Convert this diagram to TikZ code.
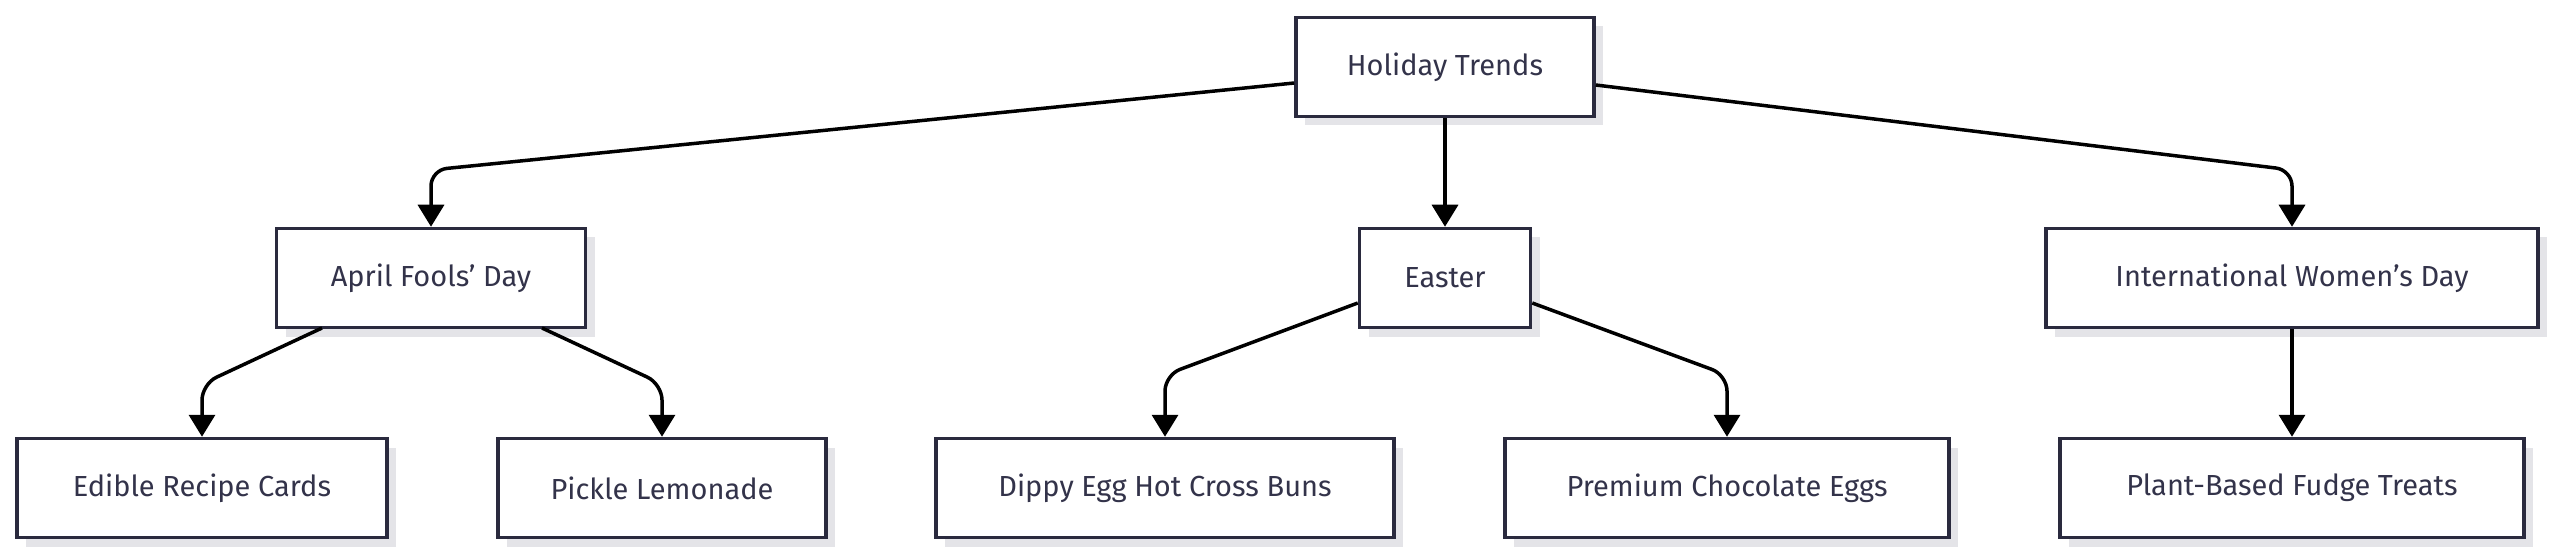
\documentclass[tikz,border=0pt]{standalone}
\usepackage{fontspec}
\setmainfont{Fira Sans}
\usetikzlibrary{arrows.meta}
\definecolor{bord}{HTML}{2A2A3E}
\definecolor{txt}{HTML}{33334A}
\definecolor{shad}{HTML}{E4E4E8}
\tikzset{
 box/.style={draw=bord,line width=3.5pt,fill=white,minimum height=99pt,text=txt,font=\fontsize{29}{35}\selectfont,
  inner sep=0pt,
  general shadow={fill=shad,shadow xshift=9pt,shadow yshift=-9pt}},
 edge/.style={line width=3.5pt,draw=black,rounded corners=16pt,-{Triangle[width=26pt,length=22pt]}}
}
\usetikzlibrary{shadows}
\begin{document}
\begin{tikzpicture}[x=1pt,y=-1pt]
\useasboundingbox (0,0) rectangle (2560,556);
\node[box,minimum width=298pt] (h) at (1445,67) {Holiday Trends};
\node[box,minimum width=309pt] (a) at (431,278) {April Fools' Day};
\node[box,minimum width=171pt] (e) at (1445,278) {Easter};
\node[box,minimum width=492pt] (w) at (2292,278) {International Women's Day};
\node[box,minimum width=370pt] (a1) at (202,488) {Edible Recipe Cards};
\node[box,minimum width=328pt] (a2) at (662,488) {Pickle Lemonade};
\node[box,minimum width=458pt] (e1) at (1165,488) {Dippy Egg Hot Cross Buns};
\node[box,minimum width=444pt] (e2) at (1727,488) {Premium Chocolate Eggs};
\node[box,minimum width=464pt] (w1) at (2292,488) {Plant-Based Fudge Treats};
\draw[edge] (h.west|-0,83) -- (431,170) -- (a.north);
\draw[edge] (h) -- (e);
\draw[edge] (h.east|-0,85) -- (2292,170) -- (w.north);
\draw[edge] (322,328) -- (202,384) -- (a1.north);
\draw[edge] (542,328) -- (662,384) -- (a2.north);
\draw[edge] (e.west|-0,303) -- (1165,375) -- (e1.north);
\draw[edge] (e.east|-0,303) -- (1727,375) -- (e2.north);
\draw[edge] (w) -- (w1);
\end{tikzpicture}
\end{document}
